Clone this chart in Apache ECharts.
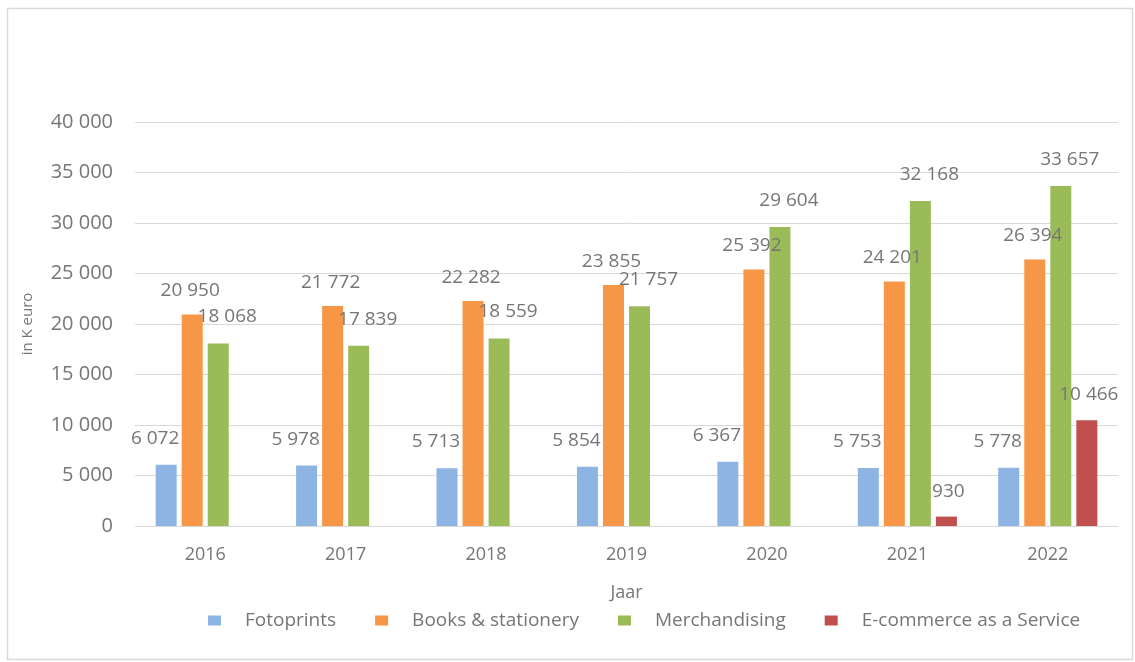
<!DOCTYPE html>
<html>
<head>
<meta charset="utf-8">
<script src="https://cdn.jsdelivr.net/npm/echarts@6/dist/echarts.min.js"></script>
<style>html,body{margin:0;padding:0;background:#fff;}#c{width:1135px;height:662px;}</style>
</head>
<body>
<div id="c"></div>
<script>
const years = ['2016','2017','2018','2019','2020','2021','2022'];
const fotoprints = [6072, 5978, 5713, 5854, 6367, 5753, 5778];
const books = [20950, 21772, 22282, 23855, 25392, 24201, 26394];
const merchandising = [18068, 17839, 18559, 21757, 29604, 32168, 33657];
const ecommerce = [null, null, null, null, null, 930, 10466];
const seriesNames = ['Fotoprints', 'Books & stationery', 'Merchandising', 'E-commerce as a Service'];
const yTicks = [0, 5000, 10000, 15000, 20000, 25000, 30000, 35000, 40000];

const fmt = v => String(v).replace(/\B(?=(\d{3})+(?!\d))/g, ' ');
const FONT = 'Open Sans';
const TXT = '#767676';

function mk(name, data, color, offset) {
  return {
    name, type: 'bar', data, barWidth: 21, barGap: '24%',
    itemStyle: { color },
    label: {
      show: true, position: 'top', offset,
      formatter: p => fmt(p.value),
      color: TXT, fontFamily: FONT, fontSize: 19
    }
  };
}

const chart = echarts.init(document.getElementById('c'));
chart.setOption({
  animation: false,
  textStyle: { fontFamily: FONT },
  graphic: [{
    type: 'rect', shape: { x: 7.5, y: 8.5, width: 1125, height: 651 },
    style: { fill: 'none', stroke: '#d9d9d9', lineWidth: 1.5 }, silent: true
  }],
  grid: { left: 135, right: 17, top: 122, bottom: 136 },
  legend: {
    data: seriesNames, left: 203, top: 606, itemWidth: 13, itemHeight: 10, itemGap: 39,
    icon: 'rect',
    textStyle: { color: TXT, fontFamily: FONT, fontSize: 19, padding: [0, 0, 0, 19] }
  },
  xAxis: {
    type: 'category', data: years,
    name: 'Jaar', nameLocation: 'middle', nameGap: 58,
    nameTextStyle: { color: TXT, fontFamily: FONT, fontSize: 18 },
    axisLine: { lineStyle: { color: '#d9d9d9' } },
    axisTick: { show: false },
    axisLabel: { color: TXT, fontFamily: FONT, fontSize: 18, margin: 20 }
  },
  yAxis: {
    type: 'value', min: yTicks[0], max: yTicks[yTicks.length - 1], interval: 5000,
    name: 'in K euro', nameLocation: 'middle', nameGap: 100, nameRotate: 90,
    nameTextStyle: { color: TXT, fontFamily: FONT, fontSize: 15 },
    splitLine: { lineStyle: { color: '#d9d9d9' } },
    axisLine: { show: false }, axisTick: { show: false },
    axisLabel: { color: TXT, fontFamily: FONT, fontSize: 20, margin: 22, formatter: v => fmt(v) }
  },
  series: [
    mk(seriesNames[0], fotoprints, '#8db4e2', [-11, -12]),
    mk(seriesNames[1], books, '#f79646', [-2, -9]),
    mk(seriesNames[2], merchandising, '#9bbb59', [9, -12]),
    mk(seriesNames[3], ecommerce, '#c0504d', [2, -11])
  ]
});
</script>
</body>
</html>
